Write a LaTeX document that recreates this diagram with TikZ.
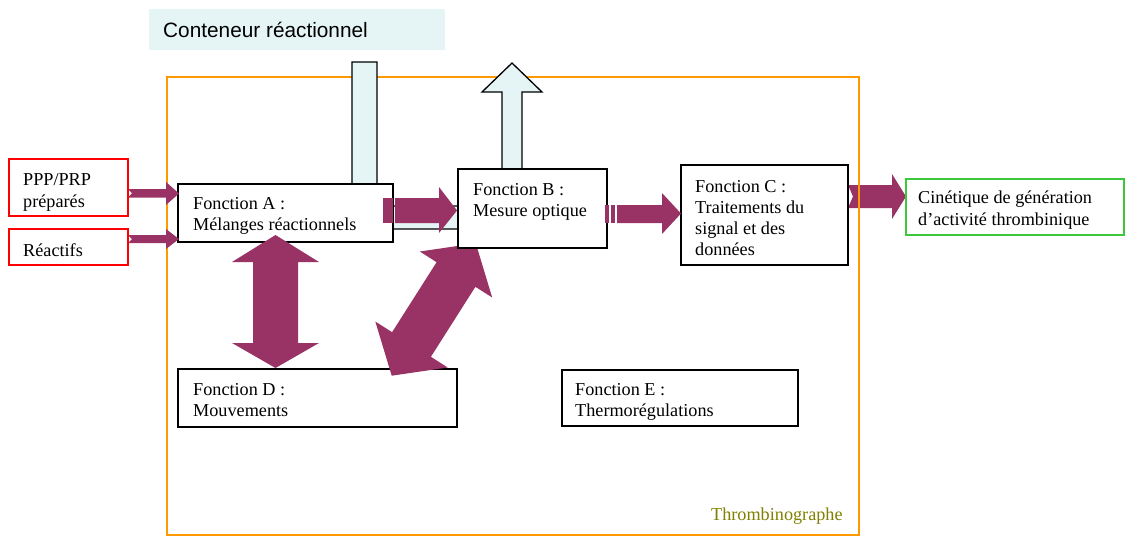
\documentclass[tikz,border=0pt]{standalone}
\usepackage{fontspec}
\setmainfont{Liberation Serif}
\newfontfamily\sansf{Liberation Sans}
\definecolor{mag}{RGB}{153,51,102}
\definecolor{cyanf}{RGB}{229,244,244}
\definecolor{orng}{RGB}{255,153,0}
\definecolor{olivet}{RGB}{128,128,0}
\definecolor{grn}{RGB}{60,200,60}
\begin{document}
\begin{tikzpicture}[x=1pt,y=-1pt,
  box/.style={draw=black, line width=1.3pt, fill=white, rectangle, anchor=north west, inner sep=0pt, outer sep=0pt},
  redbox/.style={box, draw=red, line width=1.5pt},
  grnbox/.style={box, draw=grn, line width=1.5pt},
  frame/.style={rectangle, draw=orng, line width=1.5pt, anchor=north west, inner sep=0pt, outer sep=0pt},
  lbl/.style={anchor=base west, inner sep=0pt, font=\fontsize{18.2}{21}\selectfont},
  blk/.style={fill=mag, draw=none}]
\useasboundingbox (0,0) rectangle (1125,536);

% container label
\node[fill=cyanf, anchor=north west, inner sep=0pt, minimum width=296pt, minimum height=41pt] (cont) at (149,9) {};
\node[anchor=base west, inner sep=0pt, font=\sansf\fontsize{20.8}{24}\selectfont] (tcont) at (163,37) {Conteneur réactionnel};

% arrow C -> output (under frame line)
\fill[blk] (848,185) -- (892,185) -- (892,174) -- (906,196.5) -- (892,219) -- (892,208) -- (848,208) -- (853,196.5) -- cycle;

% frame
\node[frame, minimum width=692pt, minimum height=458pt] (thr) at (167,77) {};

% reaction container shape
\draw[fill=cyanf, line width=1.3pt, line join=miter] (352,62) -- (377,62) -- (377,206) -- (502,206) -- (502,92) -- (482,92) -- (512,63) -- (542,92) -- (522,92) -- (522,229) -- (352,229) -- cycle;

% function boxes
\node[box, minimum width=279pt, minimum height=58pt] (D) at (178,369) {};
\node[box, minimum width=236pt, minimum height=56pt] (E) at (562,370) {};
\node[box, minimum width=215pt, minimum height=58pt] (A) at (178,184) {};
\node[box, minimum width=167pt, minimum height=100pt] (C) at (681,165) {};

% diagonal double arrow B <-> D
\fill[blk] (391.7,375.7) -- (447.7,367.5) -- (430.9,356.8) -- (475.4,286.8) -- (492.2,297.5) -- (475.8,243.3) -- (419.8,251.5) -- (436.6,262.2) -- (392.1,332.2) -- (375.3,321.5) -- cycle;

\node[box, minimum width=149pt, minimum height=79pt] (B) at (458,169) {};

% inputs -> A
\fill[blk] (128,189) -- (166,189) -- (166,182) -- (179,193.5) -- (166,205) -- (166,197.5) -- (128,197.5) -- (132,193.3) -- cycle;
\fill[blk] (128,235) -- (166,235) -- (166,229) -- (179,239) -- (166,249) -- (166,243) -- (128,243) -- (132,239) -- cycle;

% A -> B (striped)
\fill[blk] (383,198) rectangle (393,223);
\fill[blk] (395,198) -- (439,198) -- (439,187) -- (457,210.5) -- (439,233) -- (439,223) -- (395,223) -- cycle;

% B -> C (striped)
\fill[blk] (605,205) rectangle (609,223);
\fill[blk] (611,205) rectangle (615,223);
\fill[blk] (617,205) -- (662,205) -- (662,193) -- (681,213.5) -- (662,234) -- (662,223) -- (617,223) -- cycle;

% A <-> D
\fill[blk] (275.5,235) -- (319,262) -- (298,262) -- (298,343) -- (319,343) -- (275.5,368) -- (232,343) -- (253,343) -- (253,262) -- (232,262) -- cycle;

% input / output boxes
\node[redbox, minimum width=119pt, minimum height=57pt] (ppp) at (9,159) {};
\node[redbox, minimum width=119pt, minimum height=36pt] (rea) at (9,229) {};
\node[grnbox, minimum width=218pt, minimum height=56pt] (out) at (906,179) {};

% texts
\node[lbl] (tp1) at (23,185) {PPP/PRP};
\node[lbl] (tp2) at (23,207) {préparés};
\node[lbl] (tr1) at (23,256) {Réactifs};
\node[lbl] (tA1) at (193,209) {Fonction A :};
\node[lbl] (tA2) at (193,230) {Mélanges réactionnels};
\node[lbl] (tB1) at (473,195) {Fonction B :};
\node[lbl] (tB2) at (473,216) {Mesure optique};
\node[lbl] (tC1) at (695,192) {Fonction C :};
\node[lbl] (tC2) at (695,213) {Traitements du};
\node[lbl] (tC3) at (695,234) {signal et des};
\node[lbl] (tC4) at (695,255) {données};
\node[lbl] (tD1) at (193,395) {Fonction D :};
\node[lbl] (tD2) at (193,416) {Mouvements};
\node[lbl] (tE1) at (575,395) {Fonction E :};
\node[lbl] (tE2) at (575,416) {Thermorégulations};
\node[lbl] (to1) at (918,203) {Cinétique de génération};
\node[lbl] (to2) at (918,225) {d’activité thrombinique};
\node[lbl, text=olivet] (tthr) at (711,520) {Thrombinographe};
\end{tikzpicture}
\end{document}
